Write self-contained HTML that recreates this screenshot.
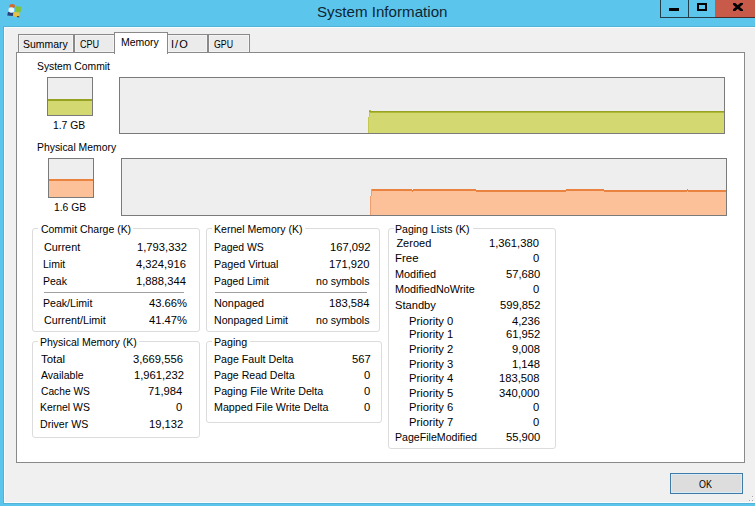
<!DOCTYPE html>
<html><head><meta charset="utf-8"><style>
html,body{margin:0;padding:0;width:755px;height:506px;overflow:hidden;background:#5cc5ec}
.b{position:absolute}
.t{position:absolute;font-family:"Liberation Sans",sans-serif;white-space:nowrap;color:#000;transform-origin:0 0}
</style></head><body>
<div class="b" style="left:0px;top:0px;width:755px;height:506px;background:#5cc5ec"></div>
<div class="b" style="left:3px;top:26px;width:752px;height:478px;background:#52b3d6"></div>
<div class="b" style="left:4px;top:27px;width:751px;height:476px;background:#f0f0f0;box-shadow:inset 1px 1px 0 #f8fcff, inset 0 -1px 0 #f8fcff"></div>
<div class="b" style="left:660px;top:0px;width:56px;height:18px;border:1px solid #233f4c;border-top:none;box-sizing:border-box"></div>
<div class="b" style="left:688px;top:0px;width:1px;height:18px;background:#233f4c"></div>
<div class="b" style="left:715px;top:0px;width:40px;height:18px;background:#c85a4a;border-bottom:1px solid #4a2a28;box-sizing:border-box"></div>
<div class="b" style="left:669px;top:8px;width:10px;height:3px;background:#000"></div>
<div class="b" style="left:697px;top:3px;width:10px;height:8px;border:2px solid #000;box-sizing:border-box"></div>
<svg class="b" style="left:733px;top:3px" width="9.5" height="8" viewBox="0 0 9.5 8"><path d="M-0.5 -0.6 L10 8.6 M10 -0.6 L-0.5 8.6" stroke="#000" stroke-width="2.7"/></svg>
<svg class="b" style="left:4px;top:2px" width="20" height="18" viewBox="4 2 20 18">
<path d="M15.6 6.2 L21.4 6.8 L20.6 12.4 L15 11.8 Z" fill="#80c23c"/>
<path d="M14 12 L19.8 12.6 L19.2 17.2 L13.4 16.6 Z" fill="#e6c244"/>
<path d="M17 16 L19.4 16.3 L19.2 17.4 L16.8 17.1 Z" fill="#34406a"/>
<ellipse cx="12.2" cy="6" rx="2.8" ry="2" fill="#cf6a32"/>
<path d="M8 12 L13.2 12.4 L12.8 16 L7.2 15.6 Z" fill="#2c3d7a"/>
<ellipse cx="11.4" cy="10" rx="2.9" ry="2.8" fill="#e8f7fc"/>
</svg>
<div class="b" style="left:16px;top:52px;width:729px;height:411px;background:#fff;border:1px solid #898989;box-sizing:border-box"></div>
<div class="b" style="left:18px;top:34px;width:56px;height:19px;background:#ebebeb;border:1px solid #898989;box-sizing:border-box;box-shadow:inset 0 0 0 1px #f4f4f4"></div>
<div class="b" style="left:74px;top:34px;width:41px;height:19px;background:#ebebeb;border:1px solid #898989;box-sizing:border-box;box-shadow:inset 0 0 0 1px #f4f4f4"></div>
<div class="b" style="left:167px;top:34px;width:41px;height:19px;background:#ebebeb;border:1px solid #898989;box-sizing:border-box;box-shadow:inset 0 0 0 1px #f4f4f4"></div>
<div class="b" style="left:208px;top:34px;width:42px;height:19px;background:#ebebeb;border:1px solid #898989;box-sizing:border-box;box-shadow:inset 0 0 0 1px #f4f4f4"></div>
<div class="b" style="left:114px;top:32px;width:54px;height:22px;background:#fff;border:1px solid #898989;border-bottom:none;box-sizing:border-box"></div>
<div class="b" style="left:47px;top:77px;width:46px;height:39px;background:#eeeeee;border:1px solid #7a7a7a;box-sizing:border-box"></div>
<div class="b" style="left:48px;top:99px;width:44px;height:16px;background:#d4d870"></div>
<div class="b" style="left:48px;top:99px;width:44px;height:2px;background:#98a222"></div>
<div class="b" style="left:119px;top:77px;width:606px;height:57px;background:#eeeeee;border:1px solid #7a7a7a;box-sizing:border-box"></div>
<div class="b" style="left:368px;top:117px;width:356px;height:16px;background:#d4d870"></div>
<div class="b" style="left:369px;top:112px;width:355px;height:5px;background:#d4d870"></div>
<div class="b" style="left:369px;top:111px;width:355px;height:1px;background:#98a222"></div>
<div class="b" style="left:369px;top:112px;width:355px;height:1px;background:#b0b838"></div>
<div class="b" style="left:369px;top:110px;width:2px;height:1px;background:#b4b848"></div>
<div class="b" style="left:368px;top:117px;width:1px;height:16px;background:#c4c850"></div>
<div class="b" style="left:369px;top:112px;width:1px;height:5px;background:#c4c850"></div>
<div class="b" style="left:48px;top:158px;width:46px;height:40px;background:#eeeeee;border:1px solid #7a7a7a;box-sizing:border-box"></div>
<div class="b" style="left:49px;top:179px;width:44px;height:18px;background:#fdc19a"></div>
<div class="b" style="left:49px;top:179px;width:44px;height:2px;background:#ea8240"></div>
<div class="b" style="left:121px;top:158px;width:606px;height:58px;background:#eeeeee;border:1px solid #7a7a7a;box-sizing:border-box"></div>
<div class="b" style="left:372px;top:191px;width:40px;height:24px;background:#fdc19a"></div>
<div class="b" style="left:372px;top:189px;width:40px;height:2px;background:#ea8240"></div>
<div class="b" style="left:412px;top:192px;width:1px;height:23px;background:#fdc19a"></div>
<div class="b" style="left:412px;top:190px;width:1px;height:2px;background:#ea8240"></div>
<div class="b" style="left:413px;top:191px;width:63px;height:24px;background:#fdc19a"></div>
<div class="b" style="left:413px;top:189px;width:63px;height:2px;background:#ea8240"></div>
<div class="b" style="left:476px;top:192px;width:90px;height:23px;background:#fdc19a"></div>
<div class="b" style="left:476px;top:190px;width:90px;height:2px;background:#ea8240"></div>
<div class="b" style="left:566px;top:191px;width:38px;height:24px;background:#fdc19a"></div>
<div class="b" style="left:566px;top:189px;width:38px;height:2px;background:#ea8240"></div>
<div class="b" style="left:604px;top:192px;width:83px;height:23px;background:#fdc19a"></div>
<div class="b" style="left:604px;top:190px;width:83px;height:2px;background:#ea8240"></div>
<div class="b" style="left:687px;top:191px;width:1px;height:24px;background:#fdc19a"></div>
<div class="b" style="left:687px;top:189px;width:1px;height:2px;background:#ea8240"></div>
<div class="b" style="left:688px;top:192px;width:38px;height:23px;background:#fdc19a"></div>
<div class="b" style="left:688px;top:190px;width:38px;height:2px;background:#ea8240"></div>
<div class="b" style="left:370px;top:196px;width:2px;height:19px;background:#fdc19a"></div>
<div class="b" style="left:370px;top:196px;width:1px;height:19px;background:#f0a070"></div>
<div class="b" style="left:371px;top:189px;width:1px;height:7px;background:#f0a070"></div>
<div class="b" style="left:32px;top:228px;width:168px;height:104px;border:1px solid #dcdcdc;border-radius:3px;box-sizing:border-box"></div>
<div class="b" style="left:38px;top:227px;width:95px;height:3px;background:#fff"></div>
<div class="b" style="left:32px;top:341px;width:168px;height:97px;border:1px solid #dcdcdc;border-radius:3px;box-sizing:border-box"></div>
<div class="b" style="left:38px;top:340px;width:101px;height:3px;background:#fff"></div>
<div class="b" style="left:206px;top:228px;width:174px;height:104px;border:1px solid #dcdcdc;border-radius:3px;box-sizing:border-box"></div>
<div class="b" style="left:212px;top:227px;width:93px;height:3px;background:#fff"></div>
<div class="b" style="left:206px;top:341px;width:176px;height:82px;border:1px solid #dcdcdc;border-radius:3px;box-sizing:border-box"></div>
<div class="b" style="left:212px;top:340px;width:38px;height:3px;background:#fff"></div>
<div class="b" style="left:388px;top:228px;width:168px;height:221px;border:1px solid #dcdcdc;border-radius:3px;box-sizing:border-box"></div>
<div class="b" style="left:394px;top:227px;width:79px;height:3px;background:#fff"></div>
<div class="b" style="left:44px;top:292px;width:140px;height:1px;background:#a0a0a0"></div>
<div class="b" style="left:215px;top:292px;width:152px;height:1px;background:#a0a0a0"></div>
<div class="b" style="left:752px;top:496px;width:1px;height:1px;background:#a8a8a8;box-shadow:1px 1px 0 #fff"></div>
<div class="b" style="left:752px;top:500px;width:1px;height:1px;background:#a8a8a8;box-shadow:1px 1px 0 #fff"></div>
<div class="b" style="left:749px;top:500px;width:1px;height:1px;background:#a8a8a8;box-shadow:1px 1px 0 #fff"></div>
<div class="b" style="left:670px;top:473px;width:73px;height:21px;background:#dddddd;border:1px solid #3f7ba6;box-sizing:border-box;box-shadow:inset 0 0 0 1px #d8ecf8"></div>
<div class="t" style="left:316.69px;top:4px;font-size:15px;line-height:15px;color:#0f2533;transform:scaleX(1.0102);">System Information</div>
<div class="t" style="left:23.05px;top:39px;font-size:11px;line-height:11px;color:#000;transform:scaleX(0.9500);">Summary</div>
<div class="t" style="left:80.00px;top:39px;font-size:11px;line-height:11px;color:#000;transform:scaleX(0.8261);">CPU</div>
<div class="t" style="left:121.05px;top:37px;font-size:11px;line-height:11px;color:#000;transform:scaleX(0.9513);">Memory</div>
<div class="t" style="left:171.00px;top:39px;font-size:11px;line-height:11px;color:#000;letter-spacing:1.05px;">I/O</div>
<div class="t" style="left:214.00px;top:39px;font-size:11px;line-height:11px;color:#000;transform:scaleX(0.8000);">GPU</div>
<div class="t" style="left:37.06px;top:61px;font-size:11px;line-height:11px;color:#000;transform:scaleX(0.9403);">System Commit</div>
<div class="t" style="left:53.06px;top:120px;font-size:11px;line-height:11px;color:#000;transform:scaleX(0.9394);">1.7 GB</div>
<div class="t" style="left:37.06px;top:142px;font-size:11px;line-height:11px;color:#000;transform:scaleX(0.9446);">Physical Memory</div>
<div class="t" style="left:54.06px;top:202px;font-size:11px;line-height:11px;color:#000;transform:scaleX(0.9394);">1.6 GB</div>
<div class="t" style="left:40.90px;top:224px;font-size:11px;line-height:11px;color:#000;transform:scaleX(0.9511);">Commit Charge (K)</div>
<div class="t" style="left:43.80px;top:242px;font-size:11px;line-height:11px;color:#000;transform:scaleX(0.9865);">Current</div>
<div class="t" style="left:137.34px;top:242px;font-size:11px;line-height:11px;color:#000;transform:scaleX(1.0200);">1,793,332</div>
<div class="t" style="left:42.85px;top:259px;font-size:11px;line-height:11px;color:#000;transform:scaleX(0.9545);">Limit</div>
<div class="t" style="left:136.32px;top:259px;font-size:11px;line-height:11px;color:#000;transform:scaleX(1.0200);">4,324,916</div>
<div class="t" style="left:42.85px;top:276px;font-size:11px;line-height:11px;color:#000;transform:scaleX(0.9542);">Peak</div>
<div class="t" style="left:136.32px;top:276px;font-size:11px;line-height:11px;color:#000;transform:scaleX(1.0200);">1,888,344</div>
<div class="t" style="left:42.84px;top:298px;font-size:11px;line-height:11px;color:#000;transform:scaleX(0.9620);">Peak/Limit</div>
<div class="t" style="left:148.56px;top:298px;font-size:11px;line-height:11px;color:#000;transform:scaleX(1.0200);">43.66%</div>
<div class="t" style="left:43.80px;top:315px;font-size:11px;line-height:11px;color:#000;transform:scaleX(0.9794);">Current/Limit</div>
<div class="t" style="left:148.56px;top:315px;font-size:11px;line-height:11px;color:#000;transform:scaleX(1.0200);">41.47%</div>
<div class="t" style="left:39.75px;top:337px;font-size:11px;line-height:11px;color:#000;transform:scaleX(0.9530);">Physical Memory (K)</div>
<div class="t" style="left:40.70px;top:354px;font-size:11px;line-height:11px;color:#000;transform:scaleX(1.0391);">Total</div>
<div class="t" style="left:132.62px;top:354px;font-size:11px;line-height:11px;color:#000;transform:scaleX(1.0200);">3,669,556</div>
<div class="t" style="left:40.70px;top:370px;font-size:11px;line-height:11px;color:#000;transform:scaleX(0.9591);">Available</div>
<div class="t" style="left:133.64px;top:370px;font-size:11px;line-height:11px;color:#000;transform:scaleX(1.0200);">1,961,232</div>
<div class="t" style="left:40.70px;top:386px;font-size:11px;line-height:11px;color:#000;transform:scaleX(0.9308);">Cache WS</div>
<div class="t" style="left:147.92px;top:386px;font-size:11px;line-height:11px;color:#000;transform:scaleX(1.0200);">71,984</div>
<div class="t" style="left:39.75px;top:402px;font-size:11px;line-height:11px;color:#000;transform:scaleX(0.9490);">Kernel WS</div>
<div class="t" style="left:176.48px;top:402px;font-size:11px;line-height:11px;color:#000;transform:scaleX(1.0200);">0</div>
<div class="t" style="left:39.74px;top:419px;font-size:11px;line-height:11px;color:#000;transform:scaleX(0.9633);">Driver WS</div>
<div class="t" style="left:148.94px;top:419px;font-size:11px;line-height:11px;color:#000;transform:scaleX(1.0200);">19,132</div>
<div class="t" style="left:213.64px;top:224px;font-size:11px;line-height:11px;color:#000;transform:scaleX(0.9593);">Kernel Memory (K)</div>
<div class="t" style="left:213.65px;top:242px;font-size:11px;line-height:11px;color:#000;transform:scaleX(0.9471);">Paged WS</div>
<div class="t" style="left:329.62px;top:242px;font-size:11px;line-height:11px;color:#000;transform:scaleX(1.0200);">167,092</div>
<div class="t" style="left:213.62px;top:259px;font-size:11px;line-height:11px;color:#000;transform:scaleX(0.9797);">Paged Virtual</div>
<div class="t" style="left:328.60px;top:259px;font-size:11px;line-height:11px;color:#000;transform:scaleX(1.0200);">171,920</div>
<div class="t" style="left:213.66px;top:276px;font-size:11px;line-height:11px;color:#000;transform:scaleX(0.9439);">Paged Limit</div>
<div class="t" style="left:315.54px;top:276px;font-size:11px;line-height:11px;color:#000;transform:scaleX(0.9618);">no symbols</div>
<div class="t" style="left:213.61px;top:298px;font-size:11px;line-height:11px;color:#000;transform:scaleX(0.9857);">Nonpaged</div>
<div class="t" style="left:328.60px;top:298px;font-size:11px;line-height:11px;color:#000;transform:scaleX(1.0200);">183,584</div>
<div class="t" style="left:213.64px;top:315px;font-size:11px;line-height:11px;color:#000;transform:scaleX(0.9605);">Nonpaged Limit</div>
<div class="t" style="left:315.54px;top:315px;font-size:11px;line-height:11px;color:#000;transform:scaleX(0.9618);">no symbols</div>
<div class="t" style="left:213.63px;top:337px;font-size:11px;line-height:11px;color:#000;transform:scaleX(0.9697);">Paging</div>
<div class="t" style="left:213.63px;top:354px;font-size:11px;line-height:11px;color:#000;transform:scaleX(0.9691);">Page Fault Delta</div>
<div class="t" style="left:351.54px;top:354px;font-size:11px;line-height:11px;color:#000;transform:scaleX(1.0200);">567</div>
<div class="t" style="left:213.64px;top:370px;font-size:11px;line-height:11px;color:#000;transform:scaleX(0.9614);">Page Read Delta</div>
<div class="t" style="left:363.78px;top:370px;font-size:11px;line-height:11px;color:#000;transform:scaleX(1.0200);">0</div>
<div class="t" style="left:213.63px;top:386px;font-size:11px;line-height:11px;color:#000;transform:scaleX(0.9721);">Paging File Write Delta</div>
<div class="t" style="left:363.78px;top:386px;font-size:11px;line-height:11px;color:#000;transform:scaleX(1.0200);">0</div>
<div class="t" style="left:213.63px;top:402px;font-size:11px;line-height:11px;color:#000;transform:scaleX(0.9718);">Mapped File Write Delta</div>
<div class="t" style="left:363.78px;top:402px;font-size:11px;line-height:11px;color:#000;transform:scaleX(1.0200);">0</div>
<div class="t" style="left:395.44px;top:224px;font-size:11px;line-height:11px;color:#000;transform:scaleX(0.9592);">Paging Lists (K)</div>
<div class="t" style="left:396.40px;top:238px;font-size:11px;line-height:11px;color:#000;">Zeroed</div>
<div class="t" style="left:489.32px;top:238px;font-size:11px;line-height:11px;color:#000;transform:scaleX(1.0200);">1,361,380</div>
<div class="t" style="left:395.36px;top:253px;font-size:11px;line-height:11px;color:#000;transform:scaleX(1.0381);">Free</div>
<div class="t" style="left:533.18px;top:253px;font-size:11px;line-height:11px;color:#000;transform:scaleX(1.0200);">0</div>
<div class="t" style="left:395.41px;top:269px;font-size:11px;line-height:11px;color:#000;transform:scaleX(0.9875);">Modified</div>
<div class="t" style="left:505.64px;top:269px;font-size:11px;line-height:11px;color:#000;transform:scaleX(1.0200);">57,680</div>
<div class="t" style="left:395.42px;top:284px;font-size:11px;line-height:11px;color:#000;transform:scaleX(0.9838);">ModifiedNoWrite</div>
<div class="t" style="left:533.18px;top:284px;font-size:11px;line-height:11px;color:#000;transform:scaleX(1.0200);">0</div>
<div class="t" style="left:395.39px;top:300px;font-size:11px;line-height:11px;color:#000;transform:scaleX(1.0128);">Standby</div>
<div class="t" style="left:499.52px;top:300px;font-size:11px;line-height:11px;color:#000;transform:scaleX(1.0200);">599,852</div>
<div class="t" style="left:408.68px;top:316px;font-size:11px;line-height:11px;color:#000;transform:scaleX(1.0190);">Priority 0</div>
<div class="t" style="left:511.76px;top:316px;font-size:11px;line-height:11px;color:#000;transform:scaleX(1.0200);">4,236</div>
<div class="t" style="left:408.68px;top:329px;font-size:11px;line-height:11px;color:#000;transform:scaleX(1.0190);">Priority 1</div>
<div class="t" style="left:505.64px;top:329px;font-size:11px;line-height:11px;color:#000;transform:scaleX(1.0200);">61,952</div>
<div class="t" style="left:408.68px;top:344px;font-size:11px;line-height:11px;color:#000;transform:scaleX(1.0190);">Priority 2</div>
<div class="t" style="left:511.76px;top:344px;font-size:11px;line-height:11px;color:#000;transform:scaleX(1.0200);">9,008</div>
<div class="t" style="left:408.68px;top:359px;font-size:11px;line-height:11px;color:#000;transform:scaleX(1.0190);">Priority 3</div>
<div class="t" style="left:511.76px;top:359px;font-size:11px;line-height:11px;color:#000;transform:scaleX(1.0200);">1,148</div>
<div class="t" style="left:408.68px;top:373px;font-size:11px;line-height:11px;color:#000;transform:scaleX(1.0190);">Priority 4</div>
<div class="t" style="left:498.50px;top:373px;font-size:11px;line-height:11px;color:#000;transform:scaleX(1.0200);">183,508</div>
<div class="t" style="left:408.68px;top:388px;font-size:11px;line-height:11px;color:#000;transform:scaleX(1.0190);">Priority 5</div>
<div class="t" style="left:498.50px;top:388px;font-size:11px;line-height:11px;color:#000;transform:scaleX(1.0200);">340,000</div>
<div class="t" style="left:408.68px;top:402px;font-size:11px;line-height:11px;color:#000;transform:scaleX(1.0190);">Priority 6</div>
<div class="t" style="left:533.18px;top:402px;font-size:11px;line-height:11px;color:#000;transform:scaleX(1.0200);">0</div>
<div class="t" style="left:408.68px;top:417px;font-size:11px;line-height:11px;color:#000;transform:scaleX(1.0190);">Priority 7</div>
<div class="t" style="left:533.18px;top:417px;font-size:11px;line-height:11px;color:#000;transform:scaleX(1.0200);">0</div>
<div class="t" style="left:395.44px;top:432px;font-size:11px;line-height:11px;color:#000;transform:scaleX(0.9639);">PageFileModified</div>
<div class="t" style="left:505.64px;top:432px;font-size:11px;line-height:11px;color:#000;transform:scaleX(1.0200);">55,900</div>
<div class="t" style="left:699.00px;top:479px;font-size:11px;line-height:11px;color:#000;transform:scaleX(0.8125);">OK</div>
</body></html>
